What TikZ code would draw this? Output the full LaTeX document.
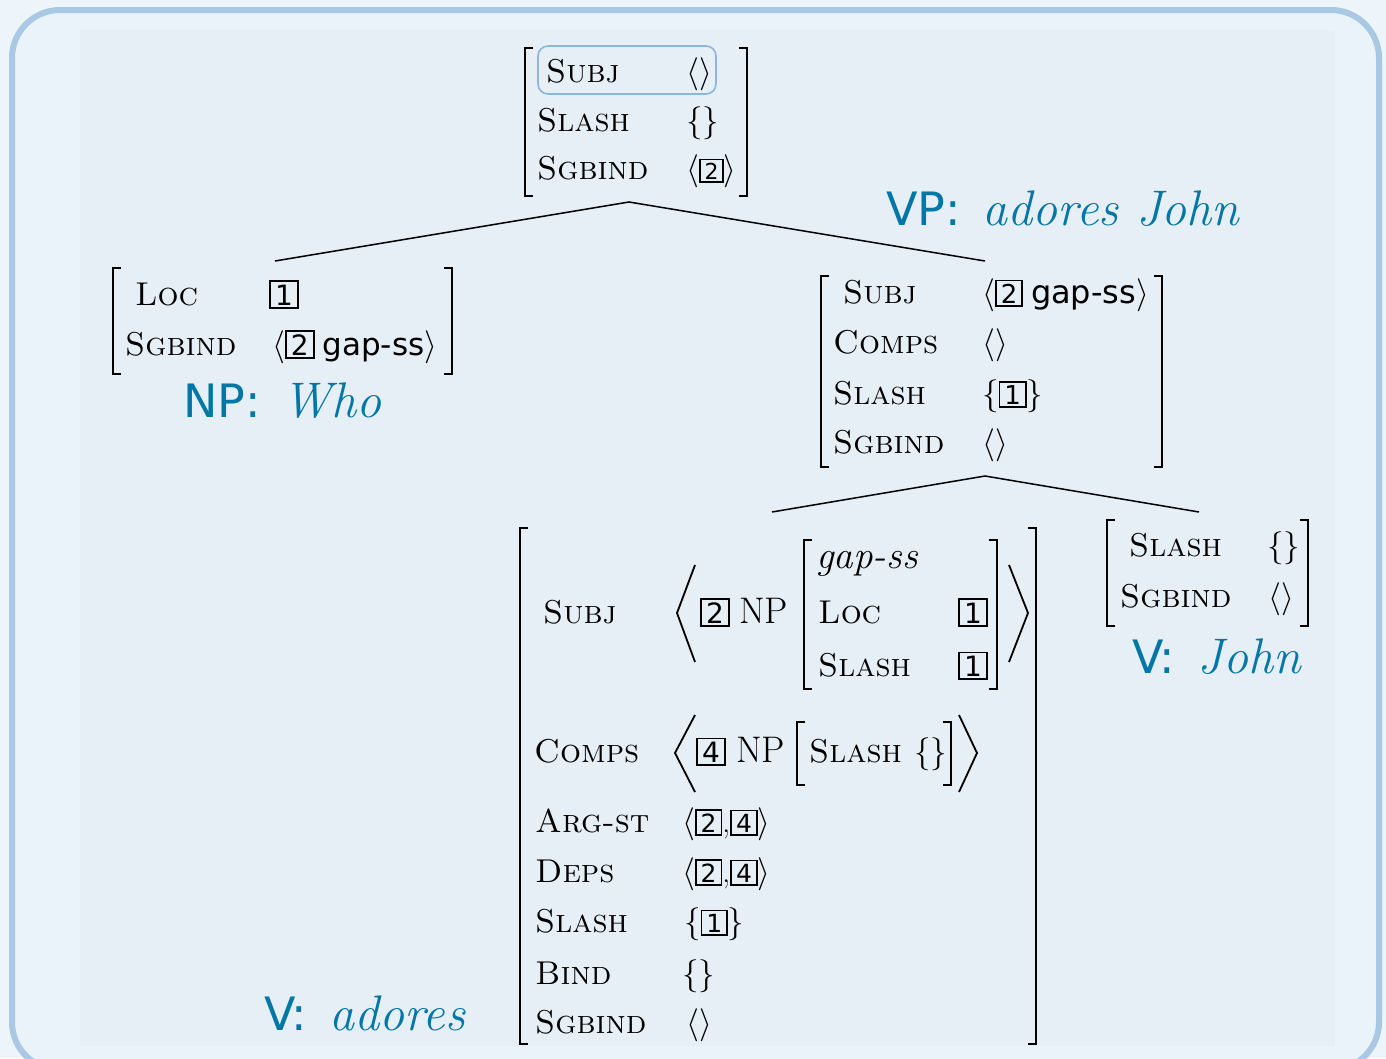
\RequirePackage{fix-cm}
\documentclass[tikz,border=0pt]{standalone}
\usepackage{fontspec}
\newfontfamily\dvs{DejaVu Sans}
\definecolor{outerbg}{RGB}{237,244,250}
\definecolor{framefill}{RGB}{234,242,250}
\definecolor{panel}{RGB}{230,238,246}
\definecolor{framec}{RGB}{168,200,228}
\definecolor{hilite}{RGB}{140,182,224}
\definecolor{lblc}{RGB}{0,119,166}
\newcommand\tg[2][22]{{\setlength\fboxsep{2.4pt}\setlength\fboxrule{1.7pt}\fbox{\fontsize{#1}{#1}\dvs\hbox to 0.76em{\hss#2\hss}}}}
\newcommand\gss[1][31]{{\fontsize{#1}{#1}\dvs gap-ss}}
\newcommand\lbltext[2]{{\fontsize{46}{46}\dvs #1:}\hspace{22pt}{\fontsize{50}{50}\selectfont\itshape #2}}
\newcommand\AVMbr[4]{%
  \draw[br] ({#1+8},#3) -- (#1,#3) -- (#1,#4) -- ({#1+8},#4);
  \draw[br] ({#2-8},#3) -- (#2,#3) -- (#2,#4) -- ({#2-8},#4);}
\tikzset{
  feat/.style={anchor=base west, inner sep=0pt, font=\fontsize{33}{33}\selectfont},
  npf/.style={anchor=base west, inner sep=0pt, font=\fontsize{37}{37}\selectfont},
  lbl/.style={anchor=base west, inner sep=0pt, text=lblc},
  br/.style={line width=2.6pt, line cap=butt, line join=miter},
  ang/.style={line width=1.8pt},
  edge/.style={line width=1.5pt},
}
\begin{document}
\begin{tikzpicture}[x=1pt,y=-1pt]
\useasboundingbox (0,0) rectangle (1386,1058);
\clip (0,0) rectangle (1386,1058);
\fill[outerbg] (0,0) rectangle (1386,1058);
\draw[framec, line width=6pt, fill=framefill, rounded corners=48pt] (12,10) rectangle (1379,1070);
\fill[panel] (80,30) rectangle (1335,1046);

% ---- top AVM
\AVMbr{525}{747}{48}{196}
\draw[hilite, line width=1.6pt, rounded corners=10pt] (538,46) rectangle (716,94);
\node[feat] (s-subj) at (546,82) {\textsc{Subj}};
\node[feat] (s-slash) at (537,131) {\textsc{Slash}};
\node[feat] (s-sgb) at (537,179) {\textsc{Sgbind}};
\node[feat] (s-subjv) at (686,82) {$\langle\rangle$};
\node[feat] (s-slashv) at (686,131) {$\{\}$};
\node[feat] (s-sgbv) at (686,179) {$\langle$\tg[22]{2}$\rangle$};

% ---- tree 1
\coordinate (s-foot) at (629,202);
\coordinate (np-head) at (275,261);
\coordinate (vp-head) at (985,261);
\draw[edge] (np-head) -- (s-foot) -- (vp-head);

% ---- NP AVM
\AVMbr{113}{452}{268}{374}
\node[feat] (np-loc) at (135,305) {\textsc{Loc}};
\node[feat] (np-sgb) at (125,355) {\textsc{Sgbind}};
\node[feat] (np-locv) at (269,305) {\tg[28]{1}};
\node[feat] (np-sgbv) at (272,355) {$\langle$\tg[28]{2}\hspace{8pt}\gss[31]$\rangle$};
\node[lbl] (np-lbl) at (183,417) {\lbltext{NP}{Who}};

% ---- VP AVM
\AVMbr{821}{1162}{276}{467}
\node[feat] (vp-subj) at (843,303) {\textsc{Subj}};
\node[feat] (vp-comps) at (833,353) {\textsc{Comps}};
\node[feat] (vp-slash) at (833,404) {\textsc{Slash}};
\node[feat] (vp-sgb) at (833,453) {\textsc{Sgbind}};
\node[feat] (vp-subjv) at (982,303) {$\langle$\tg[26]{2}\hspace{8pt}\gss[32]$\rangle$};
\node[feat] (vp-compsv) at (982,353) {$\langle\rangle$};
\node[feat] (vp-slashv) at (982,404) {$\{$\tg[26]{1}$\}$};
\node[feat] (vp-sgbv) at (982,453) {$\langle\rangle$};
\node[lbl] (vp-lbl) at (886,225) {\lbltext{VP}{adores John}};

% ---- tree 2
\coordinate (vp-foot) at (985,476);
\coordinate (v-head) at (772,512);
\coordinate (vj-head) at (1199,512);
\draw[edge] (v-head) -- (vp-foot) -- (vj-head);

% ---- V adores AVM
\AVMbr{520}{1036}{528}{1044}
\node[feat] (v-subj) at (543,623) {\textsc{Subj}};
\node[feat] (v-comps) at (534,762) {\textsc{Comps}};
\node[feat] (v-argst) at (535,832) {\textsc{Arg-st}};
\node[feat] (v-deps) at (535,882) {\textsc{Deps}};
\node[feat] (v-slash) at (535,932) {\textsc{Slash}};
\node[feat] (v-bind) at (535,984) {\textsc{Bind}};
\node[feat] (v-sgb) at (535,1033) {\textsc{Sgbind}};
% subj value
\draw[ang] (695,565) -- (677,613) -- (695,662);
\node[feat] (v-tag2) at (700,623) {\tg[28]{2}};
\node[npf] (v-np1) at (739,623) {NP};
\AVMbr{804}{997}{540}{689}
\node[feat, font=\fontsize{39}{39}\selectfont\itshape] (v-gap) at (816,568) {gap-ss};
\node[feat] (v-loc) at (818,623) {\textsc{Loc}};
\node[feat] (v-slash1) at (818,676) {\textsc{Slash}};
\node[feat] (v-locv) at (958,623) {\tg[28]{1}};
\node[feat] (v-slash1v) at (958,676) {\tg[28]{1}};
\draw[ang] (1009,565) -- (1028,613) -- (1009,662);
% comps value
\draw[ang] (695,715) -- (675,753) -- (695,792);
\node[feat] (v-tag4) at (696,762) {\tg[28]{4}};
\node[npf] (v-np2) at (736,762) {NP};
\AVMbr{797}{951}{722}{785}
\node[feat] (v-slash2) at (809,762) {\textsc{Slash}};
\node[feat] (v-slash2v) at (914,762) {$\{\}$};
\draw[ang] (959,715) -- (977,753) -- (959,792);
% other values
\node[feat] (v-argstv) at (682,832) {$\langle$\tg[25]{2},\tg[25]{4}$\rangle$};
\node[feat] (v-depsv) at (682,882) {$\langle$\tg[25]{2},\tg[25]{4}$\rangle$};
\node[feat] (v-slashv) at (684,932) {$\{$\tg[25]{1}$\}$};
\node[feat] (v-bindv) at (682,984) {$\{\}$};
\node[feat] (v-sgbv) at (686,1033) {$\langle\rangle$};
\node[lbl] (v-lbl) at (264,1030) {\lbltext{V}{adores}};

% ---- V John AVM
\AVMbr{1107}{1308}{520}{626}
\node[feat] (vj-slash) at (1129,556) {\textsc{Slash}};
\node[feat] (vj-sgb) at (1120,607) {\textsc{Sgbind}};
\node[feat] (vj-slashv) at (1267,556) {$\{\}$};
\node[feat] (vj-sgbv) at (1268,607) {$\langle\rangle$};
\node[lbl] (vj-lbl) at (1132,673) {\lbltext{V}{John}};
\end{tikzpicture}
\end{document}
